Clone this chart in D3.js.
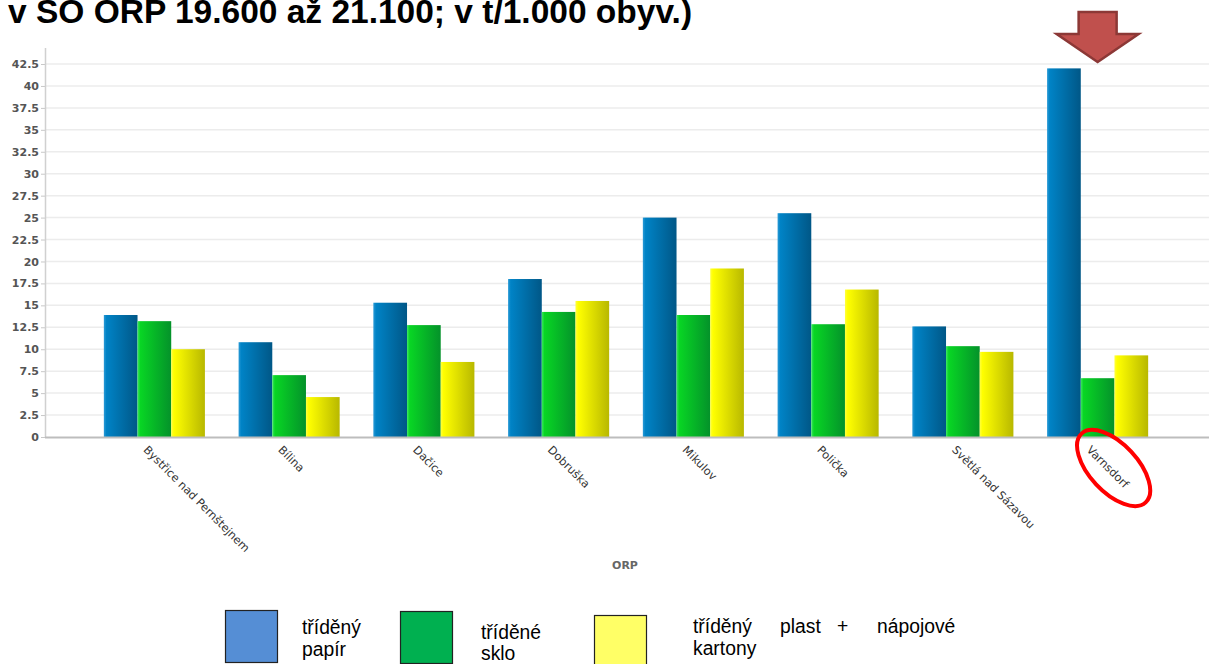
<!DOCTYPE html>
<html>
<head>
<meta charset="utf-8">
<script src="https://cdn.jsdelivr.net/npm/d3@7"></script>
<style>
  body { margin:0; background:#fff; }
  svg { display:block; }
</style>
</head>
<body>
<div class="chart"></div>
<script>
// data
const categories = ["Bystřice nad Pernštejnem","Bílina","Dačice","Dobruška","Mikulov","Polička","Světlá nad Sázavou","Varnsdorf"];
const papir = [13.9, 10.8, 15.3, 18.0, 25.0, 25.5, 12.6, 42.0];
const sklo  = [13.2, 7.05, 12.75, 14.25, 13.9, 12.85, 10.35, 6.7];
const plast = [10.0, 4.55, 8.55, 15.5, 19.2, 16.8, 9.7, 9.3];
const seriesNames = ["papir","sklo","plast"];
const yTicks = d3.range(0, 42.6, 2.5);

const W = 1209, H = 664;
const svg = d3.select(".chart").append("svg")
    .attr("width", W).attr("height", H);

const defs = svg.append("defs");
const grads = {
  papir: ["#2a9ad6", "#0083c6", "#005787"],
  sklo:  ["#3ce860", "#08d624", "#04922a"],
  plast: ["#ffff40", "#ffff00", "#b8b800"]
};
Object.entries(grads).forEach(([k, c]) => {
  const g = defs.append("linearGradient").attr("id", "g-" + k)
      .attr("x1", "0%").attr("x2", "100%").attr("y1", "0%").attr("y2", "0%");
  g.append("stop").attr("offset", "0%").attr("stop-color", c[0]);
  g.append("stop").attr("offset", "8%").attr("stop-color", c[1]);
  g.append("stop").attr("offset", "100%").attr("stop-color", c[2]);
});

// title (its top is cut by the page edge, as in the original)
svg.append("text")
    .attr("x", 8).attr("y", 23)
    .attr("font-family", "Liberation Sans, Arial, sans-serif")
    .attr("font-weight", "bold").attr("font-size", 33.5)
    .attr("fill", "#000")
    .text("v SO ORP 19.600 až 21.100; v t/1.000 obyv.)");

// scales
const x0 = d3.scaleBand().domain(categories).range([87, 1165])
    .paddingInner(0.25).paddingOuter(0.125);
const x1 = d3.scaleBand().domain(seriesNames).range([0, x0.bandwidth()]);
const y = d3.scaleLinear().domain([0, 42.5]).range([437, 64]);

// grid
svg.append("g").selectAll("line").data(yTicks.filter(d => d > 0)).join("line")
    .attr("x1", 45).attr("x2", W)
    .attr("y1", d => y(d)).attr("y2", d => y(d))
    .attr("stroke", "#ececec").attr("stroke-width", 1.5);

// y axis
const yAxis = d3.axisLeft(y).tickValues(yTicks).tickSize(4).tickFormat(d => d);
const ya = svg.append("g").attr("transform", "translate(45,0)").call(yAxis);
ya.select(".domain").remove();
ya.selectAll(".tick line").attr("stroke", "#c8c8c8");
ya.selectAll(".tick text")
    .attr("x", -6)
    .attr("font-family", "DejaVu Sans, Verdana, sans-serif")
    .attr("font-weight", "bold").attr("font-size", 11)
    .attr("fill", "#555");
svg.append("line").attr("x1", 45.5).attr("x2", 45.5).attr("y1", 48).attr("y2", 437)
    .attr("stroke", "#d0d0d0").attr("stroke-width", 1.5);

// bars
const rows = categories.map((c, i) => ({cat: c, papir: papir[i], sklo: sklo[i], plast: plast[i]}));
const groups = svg.append("g").selectAll("g").data(rows).join("g")
    .attr("transform", d => `translate(${x0(d.cat)},0)`);
groups.selectAll("rect")
    .data(d => seriesNames.map(k => ({key: k, value: d[k]})))
    .join("rect")
    .attr("x", d => x1(d.key))
    .attr("width", x1.bandwidth())
    .attr("y", d => y(d.value))
    .attr("height", d => y(0) - y(d.value))
    .attr("fill", d => `url(#g-${d.key})`);

// x axis line
svg.append("line").attr("x1", 45).attr("x2", W).attr("y1", 437.5).attr("y2", 437.5)
    .attr("stroke", "#bdbdbd").attr("stroke-width", 2);

// category labels
svg.append("g").selectAll("text").data(categories).join("text")
    .attr("transform", d => `translate(${x0(d) + x0.bandwidth() / 2 - 6},445) rotate(45)`)
    .attr("dy", "0.7em")
    .attr("font-family", "DejaVu Sans, sans-serif")
    .attr("font-size", 11.3)
    .attr("fill", "#333")
    .text(d => d);

svg.append("text").attr("x", 625).attr("y", 569).attr("text-anchor", "middle")
    .attr("font-family", "DejaVu Sans, Verdana, sans-serif")
    .attr("font-weight", "bold").attr("font-size", 11).attr("fill", "#666")
    .text("ORP");

// arrow annotation over Varnsdorf
const ac = x0("Varnsdorf") + x0.bandwidth() / 2;
svg.append("path")
    .attr("d", `M${ac-19},12 L${ac+19},12 L${ac+19},34 L${ac+41},34 L${ac},62 L${ac-41},34 L${ac-19},34 Z`)
    .attr("fill", "#c0504d").attr("stroke", "#8c3836").attr("stroke-width", 2.5)
    .attr("stroke-linejoin", "miter");

// red ellipse around Varnsdorf label
svg.append("ellipse")
    .attr("transform", `translate(${ac + 16},468) rotate(47)`)
    .attr("rx", 47).attr("ry", 24)
    .attr("fill", "none").attr("stroke", "#ff0000").attr("stroke-width", 4);

// legend
const legend = svg.append("g");
const legBoxes = [
  {x: 225, y: 610, fill: "#558ed5"},
  {x: 400, y: 611, fill: "#00b050"},
  {x: 594, y: 615, fill: "#ffff66"}
];
legend.selectAll("rect").data(legBoxes).join("rect")
    .attr("x", d => d.x + 0.5).attr("y", d => d.y + 0.5)
    .attr("width", 52).attr("height", 52)
    .attr("fill", d => d.fill).attr("stroke", "#222").attr("stroke-width", 1.2);

const legText = [
  {x: 302, y: 634, t: "tříděný"}, {x: 302, y: 656, t: "papír"},
  {x: 481, y: 639, t: "tříděné"}, {x: 481, y: 660, t: "sklo"},
  {x: 693, y: 633, t: "tříděný"}, {x: 780, y: 633, t: "plast"},
  {x: 837, y: 633, t: "+"}, {x: 877, y: 633, t: "nápojové"},
  {x: 693, y: 655, t: "kartony"}
];
legend.selectAll("text").data(legText).join("text")
    .attr("x", d => d.x).attr("y", d => d.y)
    .attr("font-family", "Liberation Sans, Arial, sans-serif")
    .attr("font-size", 21).attr("fill", "#000")
    .attr("transform", d => `translate(${d.x},0) scale(0.92,1) translate(${-d.x},0)`)
    .text(d => d.t);
</script>
</body>
</html>
